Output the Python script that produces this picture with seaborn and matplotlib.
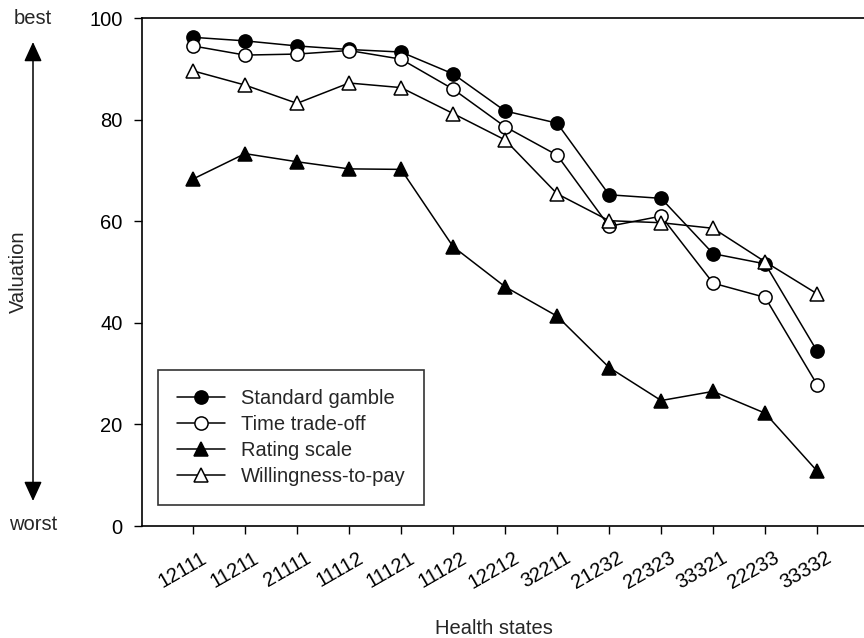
import pandas as pd
import seaborn as sns
import matplotlib.pyplot as plt
from matplotlib.patches import FancyArrowPatch
from matplotlib.transforms import ScaledTranslation

states = ['12111', '11211', '21111', '11112', '11121', '11122', '12212',
          '32211', '21232', '22323', '33321', '22233', '33332']

standard_gamble = [96.2, 95.5, 94.5, 93.8, 93.3, 89.0, 81.7, 79.3, 65.2, 64.5, 53.6, 51.6, 34.4]
time_tradeoff = [94.5, 92.7, 92.9, 93.6, 91.9, 86.0, 78.6, 73.0, 59.0, 61.0, 47.8, 45.0, 27.8]
rating_scale = [68.3, 73.3, 71.7, 70.3, 70.2, 55.0, 47.1, 41.3, 31.2, 24.7, 26.5, 22.2, 10.8]
willingness_to_pay = [89.6, 86.8, 83.2, 87.2, 86.3, 81.2, 76.0, 65.4, 60.1, 59.7, 58.6, 52.0, 45.7]

series = {
    'Standard gamble': (standard_gamble, 'o', 'black'),
    'Time trade-off': (time_tradeoff, 'o', 'white'),
    'Rating scale': (rating_scale, '^', 'black'),
    'Willingness-to-pay': (willingness_to_pay, '^', 'white'),
}

sns.set_style('ticks')
plt.rcParams['font.family'] = ['Liberation Sans', 'DejaVu Sans']
fs = 14.5

fig = plt.figure(figsize=(8.64, 6.38), dpi=100)
ax = fig.add_axes([142 / 864, 1 - 526 / 638, 1 - 142 / 864, (526 - 18) / 638])

for name, (vals, mk, face) in series.items():
    df = pd.DataFrame({'pos': range(len(states)), 'val': vals})
    sns.lineplot(data=df, x='pos', y='val', ax=ax, color='black', linewidth=1.1,
                 marker=mk, markersize=9.5 if mk == 'o' else 10,
                 markerfacecolor=face, markeredgecolor='black', markeredgewidth=1.1,
                 label=name)

ax.set_xlim(-0.98, 12.9)
ax.set_ylim(0, 100)
ax.set_yticks([0, 20, 40, 60, 80, 100])
ax.set_xticks(range(len(states)))
ax.set_xticklabels(states, rotation=30, ha='right', rotation_mode='anchor')
ax.tick_params(axis='both', direction='out', length=6, width=1, colors='black', labelsize=fs)
ax.tick_params(axis='x', pad=10)
ax.tick_params(axis='y', pad=8)
# nudge the rotated labels to the right, as in the original
shift = ScaledTranslation(8 / 100, 0, fig.dpi_scale_trans)
for lbl in ax.get_xticklabels():
    lbl.set_transform(lbl.get_transform() + shift)
ax.set_xlabel('')
ax.set_ylabel('')
for s in ['left', 'bottom', 'top']:
    ax.spines[s].set_linewidth(1.2)
    ax.spines[s].set_color('black')
ax.spines['right'].set_visible(False)

leg = ax.legend(loc='lower left', bbox_to_anchor=(16 / 722, 21 / 508), frameon=True,
                fancybox=False, edgecolor='black', fontsize=fs, handlelength=2.4,
                labelspacing=0.35, borderpad=0.95, borderaxespad=0, handletextpad=0.75)
leg.get_frame().set_linewidth(1.2)

fig.text(494 / 864, 1 - 629 / 638, 'Health states', ha='center', va='center', fontsize=fs)
fig.text(18 / 864, 1 - 272 / 638, 'Valuation', ha='center', va='center', rotation=90, fontsize=fs)
fig.text(33 / 864, 1 - 18 / 638, 'best', ha='center', va='center', fontsize=fs)
fig.text(33 / 864, 1 - 525 / 638, 'worst', ha='center', va='center', fontsize=fs)
fig.add_artist(FancyArrowPatch(
    (33 / 864, 1 - 501 / 638), (33 / 864, 1 - 42 / 638), transform=fig.transFigure,
    arrowstyle='<|-|>,head_length=12,head_width=5.5', color='black', linewidth=1.1,
    mutation_scale=1, shrinkA=0, shrinkB=0))

fig.savefig('out.png', dpi=100)
